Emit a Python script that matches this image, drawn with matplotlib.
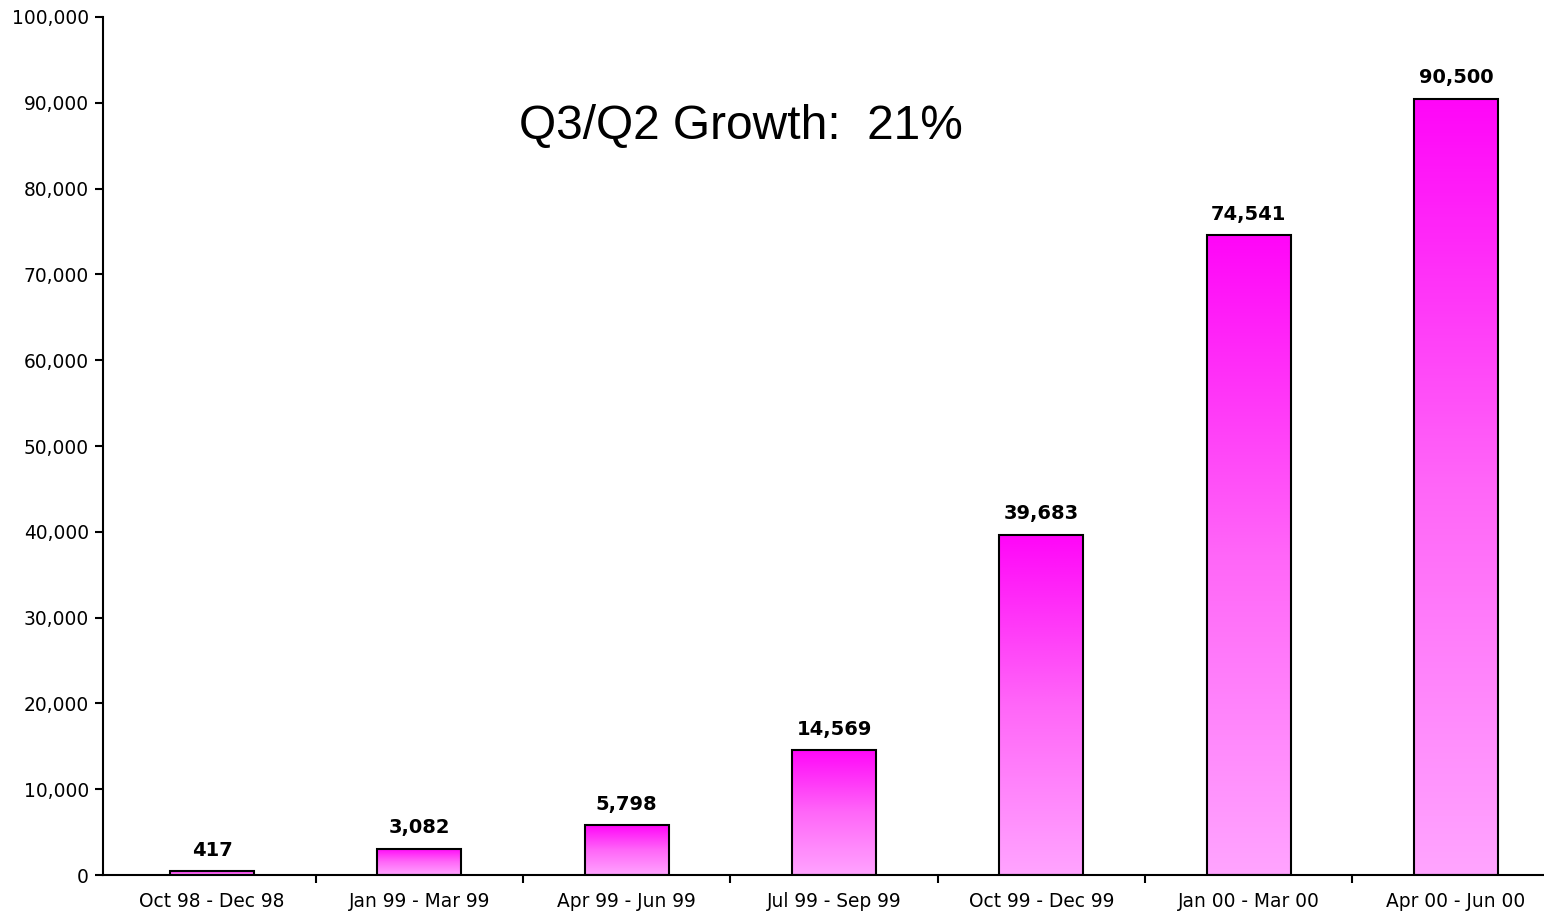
import matplotlib
matplotlib.use("Agg")
import matplotlib.pyplot as plt
import numpy as np
from matplotlib.colors import LinearSegmentedColormap

categories = ["Oct 98 - Dec 98", "Jan 99 - Mar 99", "Apr 99 - Jun 99", "Jul 99 - Sep 99",
              "Oct 99 - Dec 99", "Jan 00 - Mar 00", "Apr 00 - Jun 00"]
values = [417, 3082, 5798, 14569, 39683, 74541, 90500]
yticks = list(range(0, 100001, 10000))
title_text = "Q3/Q2 Growth:  21%"

plt.rcParams['font.family'] = ['DejaVu Sans']

fig = plt.figure(figsize=(15.44, 9.13), dpi=100)
W, H = 1544, 913
left, right, top, bottom = 103, 1544, 17, 875
ax = fig.add_axes([left / W, 1 - bottom / H, (right - left) / W, (bottom - top) / H])

cmap = LinearSegmentedColormap.from_list("mag", ["#FFA4FF", "#FF66F8", "#FF06F8"])
grad = np.linspace(0, 1, 256).reshape(-1, 1)
bw = 0.405
x = np.arange(len(categories))
bars = ax.bar(x, values, width=bw, facecolor="none", edgecolor="black", linewidth=1.5, zorder=3)
for xi, v in zip(x, values):
    ax.imshow(grad, extent=(xi - bw / 2, xi + bw / 2, 0, v), origin="lower",
              cmap=cmap, aspect="auto", zorder=2, interpolation="bilinear")
    ax.text(xi, v + 1300, f"{v:,}", ha="center", va="bottom", fontsize=14,
            fontweight="bold", zorder=4)

ax.set_xlim(-0.526, 6.424)
ax.set_ylim(0, 100000)
ax.set_yticks(yticks)
ax.set_yticklabels([f"{t:,}" for t in yticks], fontsize=13.4)
ax.set_xticks(x)
ax.set_xticklabels(categories, fontsize=13.4)
ax.tick_params(axis="x", which="major", length=0, pad=12)
ax.set_xticks(np.arange(0.5, len(categories) - 0.5, 1), minor=True)
ax.tick_params(axis="x", which="minor", length=6, width=1.5, direction="out")
ax.tick_params(axis="y", length=6, width=1.5, direction="out", pad=4)

for s in ["top", "right"]:
    ax.spines[s].set_visible(False)
for s in ["left", "bottom"]:
    ax.spines[s].set_linewidth(1.5)

ax.text(741 / W, 1 - 127 / H, title_text, transform=fig.transFigure, ha="center",
        va="center", fontsize=34.5, family="Liberation Sans")

fig.savefig("out.png", dpi=100)
